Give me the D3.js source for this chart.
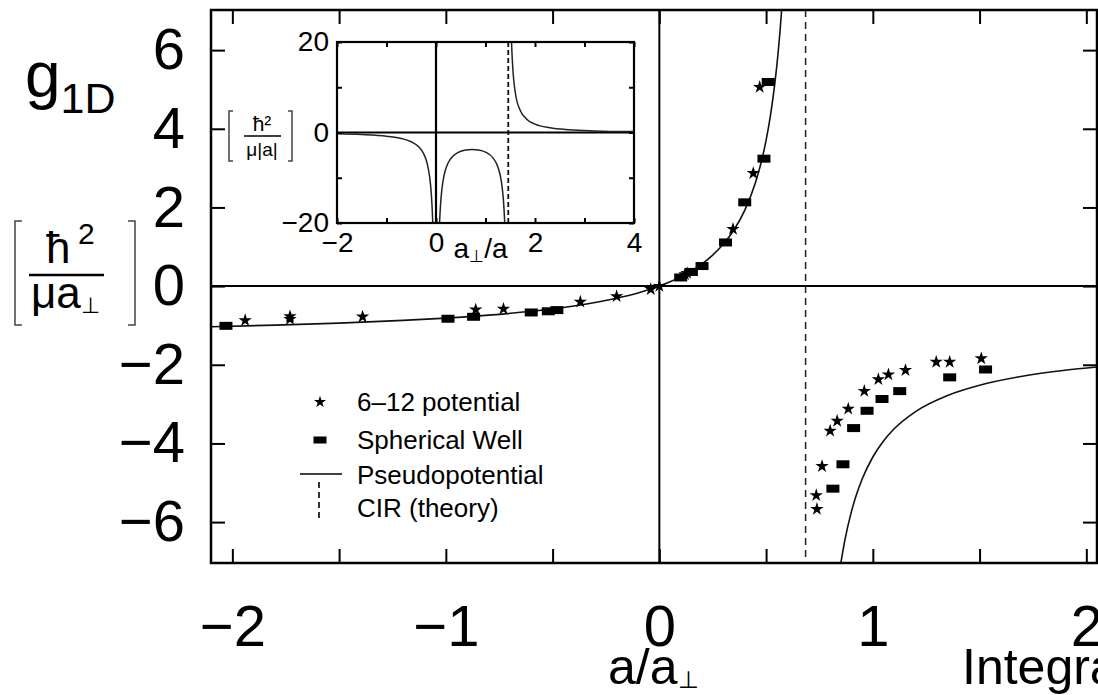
<!DOCTYPE html>
<html>
<head>
<meta charset="utf-8">
<script src="https://cdn.jsdelivr.net/npm/d3@7"></script>
<style>
body{margin:0;background:#fff}
svg{font-family:"Liberation Sans",Arial,Helvetica,sans-serif;display:block}
</style>
</head>
<body>
<div id="chart"></div>
<script>
// main panel: g1D vs a/a_perp
var xTicks = [-2,-1.5,-1,-0.5,0,0.5,1,1.5,2]
var yTicks = [-6,-4,-2,0,2,4,6]
var cirPole = 0.685

var curveLeftX = [-2.1,-1.8,-1.5,-1.2,-1.0,-0.8,-0.6,-0.4,-0.2,-0.1,0,0.05,0.1,0.2,0.25,0.3,0.35,0.4,0.45,0.48,0.5,0.52,0.54,0.555,0.565,0.575]
var curveLeftY = [-1.033,-0.992,-0.940,-0.872,-0.813,-0.738,-0.640,-0.505,-0.310,-0.175,0,0.108,0.234,0.565,0.788,1.068,1.432,1.924,2.625,3.210,3.706,4.322,5.108,5.857,6.460,7.173]
var curveRightX = [0.85,0.87,0.9,0.92,0.95,1.0,1.05,1.1,1.2,1.35,1.5,1.7,1.9,2.05]
var curveRightY = [-7.047,-6.434,-5.728,-5.357,-4.906,-4.345,-3.938,-3.628,-3.190,-2.780,-2.520,-2.293,-2.141,-2.057]

var starX = [-1.94,-1.73,-1.73,-1.39,-0.86,-0.73,-0.37,-0.20,-0.04,0.0,0.12,0.13,0.345,0.44,0.47,
             0.738,0.735,0.762,0.80,0.833,0.885,0.96,1.026,1.073,1.153,1.297,1.36,1.508]
var starY = [-0.87,-0.77,-0.84,-0.78,-0.60,-0.58,-0.40,-0.26,-0.08,0.0,0.30,0.33,1.45,2.87,5.06,
             -5.67,-5.32,-4.58,-3.68,-3.43,-3.12,-2.67,-2.37,-2.25,-2.14,-1.93,-1.93,-1.84]
var squareX = [-2.03,-0.99,-0.87,-0.60,-0.52,-0.48,0.10,0.15,0.20,0.31,0.40,0.49,0.51,
               0.813,0.86,0.91,0.973,1.043,1.126,1.36,1.528]
var squareY = [-1.01,-0.83,-0.78,-0.67,-0.64,-0.61,0.22,0.36,0.51,1.11,2.13,3.24,5.19,
               -5.15,-4.53,-3.61,-3.17,-2.87,-2.67,-2.32,-2.12]

var legendLabels = ["6\u201312 potential","Spherical Well","Pseudopotential","CIR  (theory)"]

// inset: g1D in units of hbar^2/(mu|a|) vs a_perp/a
var insetXTicks = [-2,-1,0,1,2,3,4]
var insetXLabels = [-2,0,2,4]
var insetYTicks = [-20,-10,0,10,20]
var insetYLabels = [-20,0,20]
var insetPole = 1.46
var insetAX = [-2,-1.5,-1,-0.7,-0.5,-0.35,-0.25,-0.18,-0.13,-0.1,-0.08,-0.07,-0.065,-0.06]
var insetAY = [-0.289,-0.450,-0.813,-1.323,-2.041,-3.157,-4.678,-6.774,-9.674,-12.818,-16.231,-18.670,-20.17,-21.93]
var insetBX = [0.065,0.075,0.09,0.12,0.16,0.22,0.3,0.45,0.6,0.73,0.86,1.0,1.15,1.25,1.32,1.36,1.38,1.39]
var insetBY = [-22.05,-19.25,-16.217,-12.435,-9.613,-7.330,-5.746,-4.399,-3.875,-3.752,-3.874,-4.345,-5.605,-7.608,-10.799,-14.662,-18.048,-20.467]
var insetCX = [1.52,1.53,1.56,1.6,1.7,1.85,2.0,2.3,2.7,3.2,4.0]
var insetCY = [22.04,18.75,12.859,8.948,4.908,2.774,1.853,1.036,0.598,0.359,0.197]

function pts(xs, ys){ return xs.map(function(d,i){ return [d, ys[i]] }) }
function fmt(d){ return d < 0 ? "\u2212" + Math.abs(d) : String(d) }

var svg = d3.select("#chart").append("svg").attr("width",1098).attr("height",695)
svg.append("rect").attr("width",1098).attr("height",695).attr("fill","#fff")

var L = 211, R = 1097, T = 10, B = 563
var x = d3.scaleLinear().domain([-2.1,2.05]).range([L,R])
var y = d3.scaleLinear().domain([-7.04,7.02]).range([B,T])

svg.append("clipPath").attr("id","mainClip").append("rect")
  .attr("x",L).attr("y",T).attr("width",R-L).attr("height",B-T)

// zero lines
svg.append("line").attr("x1",L).attr("x2",R).attr("y1",y(0)).attr("y2",y(0)).attr("stroke","#000").attr("stroke-width",2)
svg.append("line").attr("x1",x(0)).attr("x2",x(0)).attr("y1",T).attr("y2",B).attr("stroke","#000").attr("stroke-width",2)

// CIR dashed line
svg.append("line").attr("x1",x(cirPole)).attr("x2",x(cirPole)).attr("y1",T).attr("y2",B)
  .attr("stroke","#222").attr("stroke-width",1.5).attr("stroke-dasharray","7,5")

// pseudopotential curve
var line = d3.line().x(function(d){return x(d[0])}).y(function(d){return y(d[1])}).curve(d3.curveMonotoneX)
var plotG = svg.append("g").attr("clip-path","url(#mainClip)")
plotG.append("path").attr("d",line(pts(curveLeftX,curveLeftY))).attr("fill","none").attr("stroke","#111").attr("stroke-width",1.6)
plotG.append("path").attr("d",line(pts(curveRightX,curveRightY))).attr("fill","none").attr("stroke","#111").attr("stroke-width",1.6)

// markers
plotG.selectAll("rect.sq").data(pts(squareX,squareY)).enter().append("rect").attr("class","sq")
  .attr("x",function(d){return x(d[0])-6.5}).attr("y",function(d){return y(d[1])-4})
  .attr("width",13).attr("height",8).attr("fill","#000")
var star = d3.symbol().type(d3.symbolStar).size(55)
plotG.selectAll("path.st").data(pts(starX,starY)).enter().append("path").attr("class","st")
  .attr("d",star).attr("transform",function(d){return "translate("+x(d[0])+","+y(d[1])+")"}).attr("fill","#000")

// axes, ticks inward
function styleAxis(g, size){
  g.select(".domain").remove()
  g.selectAll(".tick line").attr("stroke","#000").attr("stroke-width",2)
  g.selectAll("text").attr("font-size",size).attr("font-family","Liberation Sans, Arial, sans-serif").attr("fill","#000")
}
svg.append("g").attr("transform","translate(0,"+B+")")
  .call(d3.axisBottom(x).tickValues(xTicks).tickSize(-14).tickPadding(42)
    .tickFormat(function(d){ return Number.isInteger(d) ? fmt(d) : "" }))
  .call(function(g){ styleAxis(g,58) })
svg.append("g").attr("transform","translate(0,"+T+")")
  .call(d3.axisTop(x).tickValues(xTicks).tickSize(-14).tickFormat(""))
  .call(function(g){ styleAxis(g,58) })
svg.append("g").attr("transform","translate("+L+",0)")
  .call(d3.axisLeft(y).tickValues(yTicks).tickSize(-14).tickPadding(26).tickFormat(fmt))
  .call(function(g){ styleAxis(g,58) })
svg.append("g").attr("transform","translate("+R+",0)")
  .call(d3.axisRight(y).tickValues(yTicks).tickSize(-14).tickFormat(""))
  .call(function(g){ styleAxis(g,58) })

svg.append("rect").attr("x",L).attr("y",T).attr("width",R-L).attr("height",B-T)
  .attr("fill","none").attr("stroke","#000").attr("stroke-width",2.5)

// axis titles
var xt = svg.append("text").attr("x",608).attr("y",684).attr("font-size",50)
xt.append("tspan").text("a/a")
xt.append("tspan").text("\u22A5").attr("font-size",24).attr("dy",4)
svg.append("text").attr("x",962).attr("y",684).attr("font-size",50).text("Integra")

var gt = svg.append("text").attr("x",25).attr("y",97).attr("font-size",64)
gt.append("tspan").text("g")
gt.append("tspan").text("1D").attr("font-size",43).attr("dy",16)

svg.append("text").attr("x",46).attr("y",263).attr("font-size",44).text("\u0127")
svg.append("text").attr("x",78).attr("y",244).attr("font-size",30).text("2")
svg.append("line").attr("x1",29).attr("x2",104).attr("y1",275).attr("y2",275).attr("stroke","#000").attr("stroke-width",2.5)
var ut = svg.append("text").attr("x",31).attr("y",308).attr("font-size",44)
ut.append("tspan").text("\u03BCa")
ut.append("tspan").text("\u22A5").attr("font-size",22).attr("dy",5)
function bracket(xp, dir, y0, y1, w){
  svg.append("path").attr("d","M"+(xp+dir*w)+","+y0+"H"+xp+"V"+y1+"H"+(xp+dir*w))
    .attr("fill","none").attr("stroke","#444").attr("stroke-width",1.5)
}
bracket(15,1,221,325,7)
bracket(135,-1,221,325,7)

// legend
var lgX = 320, lgRows = [402,440,475,508]
svg.append("path").attr("d",d3.symbol().type(d3.symbolStar).size(45)()).attr("transform","translate("+lgX+","+lgRows[0]+")").attr("fill","#000")
svg.append("rect").attr("x",lgX-6.5).attr("y",lgRows[1]-3.5).attr("width",13).attr("height",7).attr("fill","#000")
svg.append("line").attr("x1",300).attr("x2",342).attr("y1",lgRows[2]-1).attr("y2",lgRows[2]-1).attr("stroke","#000").attr("stroke-width",1.6)
svg.append("line").attr("x1",lgX-1).attr("x2",lgX-1).attr("y1",lgRows[3]-26).attr("y2",lgRows[3]+10)
  .attr("stroke","#000").attr("stroke-width",1.6).attr("stroke-dasharray","6,4")
svg.selectAll("text.lg").data(legendLabels).enter().append("text").attr("class","lg")
  .attr("x",357).attr("y",function(d,i){return lgRows[i]+9}).attr("font-size",26).text(function(d){return d})

// inset
var iL = 337, iR = 634, iT = 42, iB = 223
var xi = d3.scaleLinear().domain([-2,4]).range([iL,iR])
var yi = d3.scaleLinear().domain([-20,20]).range([iB,iT])
var ins = svg.append("g")
ins.append("rect").attr("x",iL).attr("y",iT).attr("width",iR-iL).attr("height",iB-iT).attr("fill","#fff")
svg.append("clipPath").attr("id","insClip").append("rect")
  .attr("x",iL).attr("y",iT).attr("width",iR-iL).attr("height",iB-iT)
ins.append("line").attr("x1",iL).attr("x2",iR).attr("y1",yi(0)).attr("y2",yi(0)).attr("stroke","#000").attr("stroke-width",2.2)
ins.append("line").attr("x1",xi(0)).attr("x2",xi(0)).attr("y1",iT).attr("y2",iB).attr("stroke","#000").attr("stroke-width",2.2)
ins.append("line").attr("x1",xi(insetPole)).attr("x2",xi(insetPole)).attr("y1",iT).attr("y2",iB)
  .attr("stroke","#111").attr("stroke-width",1.8).attr("stroke-dasharray","5,3")
var li = d3.line().x(function(d){return xi(d[0])}).y(function(d){return yi(d[1])}).curve(d3.curveMonotoneX)
var insP = ins.append("g").attr("clip-path","url(#insClip)")
;[pts(insetAX,insetAY),pts(insetBX,insetBY),pts(insetCX,insetCY)].forEach(function(p){
  insP.append("path").attr("d",li(p)).attr("fill","none").attr("stroke","#222").attr("stroke-width",1.5)
})
ins.append("g").attr("transform","translate(0,"+iB+")")
  .call(d3.axisBottom(xi).tickValues(insetXTicks).tickSize(-5).tickPadding(9)
    .tickFormat(function(d){ return insetXLabels.indexOf(d) >= 0 ? fmt(d) : "" }))
  .call(function(g){ styleAxis(g,28) })
ins.append("g").attr("transform","translate(0,"+iT+")")
  .call(d3.axisTop(xi).tickValues(insetXTicks).tickSize(-5).tickFormat(""))
  .call(function(g){ styleAxis(g,28) })
ins.append("g").attr("transform","translate("+iL+",0)")
  .call(d3.axisLeft(yi).tickValues(insetYTicks).tickSize(-5).tickPadding(8)
    .tickFormat(function(d){ return insetYLabels.indexOf(d) >= 0 ? fmt(d) : "" }))
  .call(function(g){ styleAxis(g,28) })
ins.append("g").attr("transform","translate("+iR+",0)")
  .call(d3.axisRight(yi).tickValues(insetYTicks).tickSize(-5).tickFormat(""))
  .call(function(g){ styleAxis(g,28) })
ins.append("rect").attr("x",iL).attr("y",iT).attr("width",iR-iL).attr("height",iB-iT)
  .attr("fill","none").attr("stroke","#000").attr("stroke-width",2.2)

var it = ins.append("text").attr("x",xi(0.9)).attr("y",258).attr("font-size",28).attr("text-anchor","middle")
it.append("tspan").text("a")
it.append("tspan").text("\u22A5").attr("font-size",17).attr("dy",4)
it.append("tspan").text("/a").attr("dy",-4)

ins.append("text").attr("x",262).attr("y",131).attr("font-size",21).attr("text-anchor","middle").text("\u0127\u00B2")
ins.append("line").attr("x1",244).attr("x2",281).attr("y1",136).attr("y2",136).attr("stroke","#000").attr("stroke-width",1.4)
ins.append("text").attr("x",262).attr("y",156).attr("font-size",19).attr("text-anchor","middle").text("\u03BC|a|")
bracket(229,1,111,161,4)
bracket(292,-1,111,161,4)
</script>
</body>
</html>
